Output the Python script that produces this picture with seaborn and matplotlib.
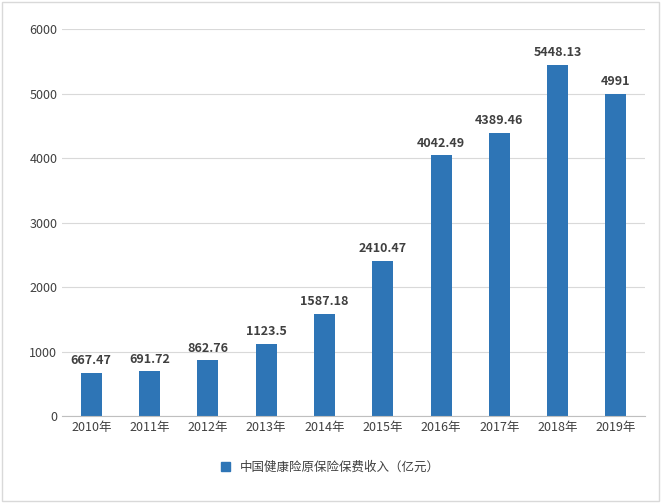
import matplotlib
matplotlib.use("Agg")
import matplotlib.pyplot as plt
import seaborn as sns
import pandas as pd
from matplotlib.patches import Rectangle

years = ["2010年","2011年","2012年","2013年","2014年","2015年","2016年","2017年","2018年","2019年"]
values = [667.47, 691.72, 862.76, 1123.5, 1587.18, 2410.47, 4042.49, 4389.46, 5448.13, 4991]
labels = ["667.47","691.72","862.76","1123.5","1587.18","2410.47","4042.49","4389.46","5448.13","4991"]
series = "中国健康险原保险保费收入（亿元）"

plt.rcParams["font.family"] = ["Noto Sans CJK SC", "DejaVu Sans"]
df = pd.DataFrame({"year": years, "value": values})

fig = plt.figure(figsize=(6.61, 5.03), dpi=100)
ax = fig.add_axes([0.094, 0.173, 0.882, 0.769])
sns.barplot(data=df, x="year", y="value", color="#2E75B6", width=0.36, ax=ax, saturation=1)
ax.set_ylim(0, 6000)
ax.set_yticks(range(0, 6001, 1000))
ax.grid(axis="y", color="#D9D9D9", linewidth=0.8)
ax.set_axisbelow(True)
for s in ["top", "right", "left"]:
    ax.spines[s].set_visible(False)
ax.spines["bottom"].set_color("#BFBFBF")
ax.tick_params(length=0, labelsize=9, colors="#404040")
ax.set_xlabel(""); ax.set_ylabel("")
for i, (v, t) in enumerate(zip(values, labels)):
    ax.text(i, v + 90, t, ha="center", va="bottom", fontsize=9, fontweight="bold", color="#404040")
handle = Rectangle((0, 0), 1, 1, color="#2E75B6")
fig.legend([handle], [series], loc="lower center", bbox_to_anchor=(0.5, 0.035), frameon=False,
           fontsize=9, handlelength=0.7, handleheight=0.7, labelcolor="#404040")
fig.patches.append(Rectangle((0.003, 0.003), 0.994, 0.994, transform=fig.transFigure,
                             fill=False, edgecolor="#D9D9D9", linewidth=1))
fig.savefig("out.png", dpi=100)
